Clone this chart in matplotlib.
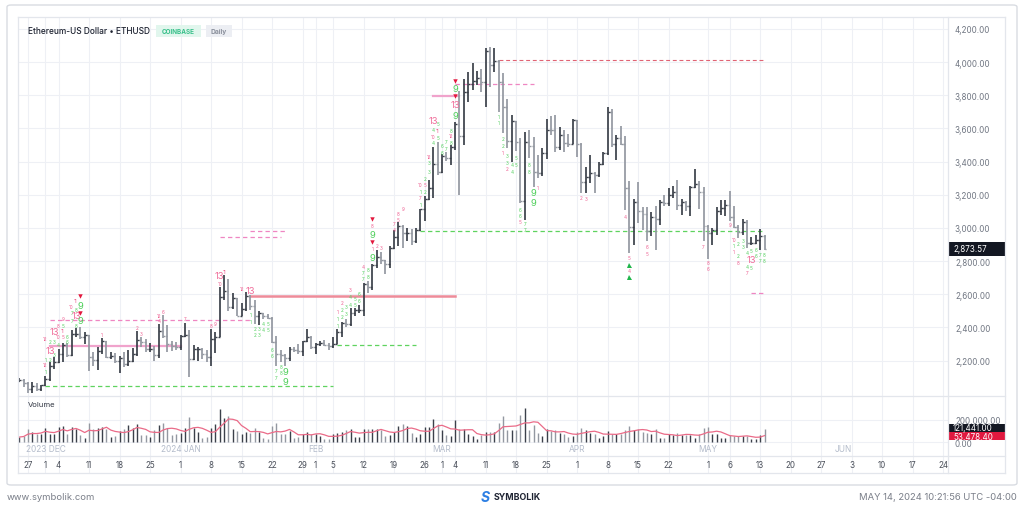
import numpy as np
import pandas as pd
import matplotlib
matplotlib.use('Agg')
import matplotlib.pyplot as plt
import matplotlib.dates as mdates
import matplotlib.transforms as mtrans
from matplotlib.patches import Rectangle, FancyBboxPatch
from matplotlib.lines import Line2D

plt.rcParams['font.family'] = ['Inter', 'DejaVu Sans']

# ---- daily OHLC, ETHUSD (Coinbase), 2023-11-25 .. 2024-05-14 ----
first_day = '2023-11-25'
last_day = '2024-05-14'

opens = [
    2080, 2085, 2063, 2027, 2049, 2029,
    2052, 2087, 2166, 2193, 2243, 2294, 2232, 2358, 2360, 2341, 2353, 2225, 2203, 2260, 2316, 2220,
    2229, 2196, 2218, 2177, 2201, 2239, 2326, 2310, 2268, 2272, 2232, 2379, 2346, 2300, 2291,
    2282, 2351, 2354, 2209, 2268, 2268, 2240, 2222, 2331, 2345, 2584, 2619, 2522, 2578, 2472, 2511,
    2587, 2530, 2467, 2489, 2470, 2455, 2313, 2242, 2235, 2218, 2268, 2267, 2257, 2318, 2344,
    2283, 2303, 2309, 2296, 2290, 2299, 2375, 2425, 2420, 2486, 2503, 2507, 2660, 2642, 2776, 2823,
    2804, 2785, 2880, 2944, 3014, 2967, 2972, 2922, 2990, 3112, 3177, 3244, 3385,
    3340, 3434, 3420, 3488, 3627, 3553, 3818, 3867, 3884, 3907, 3878, 4067, 3983, 4004, 3881, 3732,
    3522, 3644, 3519, 3160, 3516, 3494, 3336, 3329, 3455, 3591, 3590, 3490, 3560, 3510, 3508,
    3648, 3505, 3280, 3310, 3329, 3320, 3388, 3454, 3697, 3504, 3545, 3504, 3239, 3006, 3157, 3100,
    3085, 2984, 3067, 3055, 3155, 3148, 3200, 3219, 3139, 3156, 3130, 3250, 3264, 3215,
    3014, 2970, 2988, 3103, 3118, 3137, 3067, 3006, 2975, 3035, 2910, 2912, 2930, 2950,
]
highs = [
    2095, 2090, 2070, 2070, 2068, 2055,
    2110, 2192, 2222, 2270, 2305, 2305, 2385, 2395, 2405, 2375, 2355, 2250, 2285, 2335, 2320, 2250,
    2245, 2230, 2255, 2265, 2275, 2380, 2345, 2330, 2305, 2290, 2420, 2475, 2415, 2320, 2315,
    2355, 2430, 2385, 2295, 2280, 2275, 2265, 2390, 2370, 2644, 2717, 2695, 2608, 2580, 2550, 2614,
    2595, 2563, 2500, 2490, 2480, 2462, 2350, 2262, 2240, 2280, 2280, 2300, 2320, 2390, 2350,
    2306, 2320, 2325, 2308, 2340, 2393, 2436, 2449, 2520, 2517, 2538, 2666, 2683, 2783, 2867, 2858,
    2808, 2893, 2985, 3034, 3016, 3000, 2992, 3000, 3115, 3190, 3288, 3490, 3520,
    3448, 3460, 3500, 3640, 3825, 3900, 3940, 3995, 3945, 3960, 4085, 4093, 4085, 4010, 3935, 3780,
    3680, 3645, 3545, 3580, 3590, 3550, 3440, 3480, 3660, 3675, 3680, 3610, 3590, 3565, 3655,
    3650, 3510, 3370, 3440, 3340, 3400, 3460, 3730, 3720, 3560, 3615, 3555, 3285, 3175, 3280, 3125,
    3125, 3095, 3130, 3170, 3200, 3240, 3255, 3290, 3175, 3165, 3255, 3355, 3285, 3250,
    3020, 3000, 3125, 3170, 3170, 3220, 3130, 3020, 3055, 3050, 2945, 2960, 2995, 2955,
]
lows = [
    2070, 2040, 2005, 2005, 2015, 2018,
    2045, 2080, 2150, 2185, 2190, 2225, 2230, 2340, 2330, 2300, 2140, 2165, 2145, 2240, 2215, 2210,
    2185, 2125, 2160, 2165, 2190, 2230, 2280, 2255, 2255, 2200, 2215, 2335, 2255, 2260, 2265,
    2265, 2345, 2100, 2205, 2200, 2210, 2195, 2170, 2245, 2340, 2565, 2500, 2510, 2470, 2470, 2502,
    2505, 2420, 2415, 2450, 2450, 2305, 2165, 2195, 2170, 2200, 2255, 2238, 2230, 2313, 2270,
    2240, 2286, 2291, 2265, 2276, 2299, 2345, 2406, 2410, 2468, 2490, 2470, 2605, 2625, 2756, 2780,
    2725, 2760, 2873, 2890, 2880, 2920, 2900, 2910, 2980, 3040, 3167, 3180, 3320,
    3330, 3405, 3380, 3470, 3200, 3500, 3760, 3830, 3865, 3820, 3730, 3850, 3940, 3700, 3570, 3480,
    3400, 3465, 3150, 3050, 3420, 3250, 3300, 3315, 3415, 3560, 3460, 3470, 3460, 3490, 3508,
    3430, 3210, 3210, 3270, 3210, 3310, 3378, 3440, 3490, 3410, 3500, 3110, 2850, 2900, 3030, 2990,
    2920, 2950, 2870, 3020, 3135, 3135, 3180, 3110, 3080, 3100, 3070, 3240, 3115, 2920,
    2815, 2900, 2960, 3080, 3070, 3045, 3000, 2940, 2955, 2880, 2895, 2905, 2870, 2865,
]
closes = [
    2085, 2063, 2027, 2049, 2029, 2052,
    2087, 2166, 2193, 2243, 2294, 2232, 2358, 2360, 2341, 2353, 2225, 2203, 2260, 2316, 2220, 2229,
    2196, 2218, 2177, 2201, 2239, 2326, 2310, 2268, 2272, 2232, 2379, 2346, 2300, 2291, 2282,
    2351, 2354, 2209, 2268, 2268, 2240, 2222, 2331, 2345, 2584, 2619, 2522, 2578, 2472, 2511, 2587,
    2530, 2467, 2489, 2470, 2455, 2313, 2242, 2235, 2218, 2268, 2267, 2257, 2318, 2344, 2283,
    2303, 2309, 2296, 2290, 2299, 2375, 2425, 2420, 2486, 2503, 2507, 2660, 2642, 2776, 2823, 2804,
    2785, 2880, 2944, 3014, 2967, 2972, 2922, 2990, 3112, 3177, 3244, 3385, 3340,
    3434, 3420, 3488, 3627, 3553, 3818, 3867, 3884, 3907, 3878, 4067, 3983, 4004, 3881, 3732, 3522,
    3644, 3519, 3160, 3516, 3494, 3336, 3329, 3455, 3591, 3590, 3490, 3560, 3510, 3508, 3648,
    3505, 3280, 3310, 3329, 3320, 3388, 3454, 3697, 3504, 3545, 3504, 3239, 3006, 3157, 3100, 3085,
    2984, 3067, 3055, 3155, 3148, 3200, 3219, 3139, 3156, 3130, 3250, 3264, 3215, 3014,
    2970, 2988, 3103, 3118, 3137, 3067, 3006, 2975, 3035, 2910, 2912, 2930, 2950, 2873.57,
]
volume_k = [
    45, 55, 115, 94, 76, 70,
    130, 76, 76, 140, 145, 70, 140, 121, 60, 40, 175, 115, 130, 136, 115, 45,
    55, 100, 115, 155, 130, 160, 64, 64, 45, 106, 155, 175, 130, 60, 76,
    85, 130, 227, 130, 94, 40, 45, 130, 160, 300, 220, 236, 115, 100, 76, 94,
    85, 124, 94, 40, 25, 145, 175, 76, 76, 100, 33, 45, 76, 94, 76,
    76, 55, 25, 25, 76, 85, 94, 106, 115, 45, 45, 115, 121, 115, 115, 106,
    55, 64, 94, 150, 160, 145, 85, 45, 76, 140, 140, 206, 167,
    106, 64, 55, 197, 115, 115, 76, 55, 25, 64, 94, 94, 94, 175, 236, 106,
    106, 106, 245, 306, 106, 155, 85, 55, 115, 100, 106, 85, 70, 45, 55,
    94, 130, 106, 85, 76, 40, 55, 100, 76, 76, 76, 106, 145, 106, 115, 94,
    85, 76, 121, 40, 33, 70, 64, 85, 64, 64, 64, 40, 76, 124,
    140, 76, 76, 40, 40, 60, 55, 55, 55, 55, 25, 25, 64, 121.441,
]
vol_ma_label = 53478.40

# ---- TD sequential marks ----
small_dates = [
    '2023-12-01', '2023-12-01', '2023-12-01', '2023-12-02', '2023-12-02', '2023-12-01',
    '2023-12-03', '2023-12-03', '2023-12-04', '2023-12-04', '2023-12-04', '2023-12-05',
    '2023-12-05', '2023-12-05', '2023-12-05', '2023-12-06', '2023-12-06', '2023-12-07',
    '2023-12-07', '2023-12-07', '2023-12-08', '2023-12-08', '2023-12-08',
    '2023-12-14', '2023-12-22', '2023-12-23', '2023-12-27', '2023-12-27', '2023-12-28',
    '2024-01-02', '2024-01-08', '2024-01-09', '2024-01-10', '2024-01-11', '2024-01-15',
    '2024-01-17', '2024-01-17', '2024-01-18', '2024-01-18', '2024-01-19', '2024-01-19',
    '2024-01-20', '2024-01-20', '2024-01-21', '2024-01-21', '2024-01-22', '2024-01-22',
    '2024-01-23', '2024-01-23', '2024-01-24', '2024-01-24',
    '2024-02-06', '2024-02-06', '2024-02-06', '2024-02-07', '2024-02-07', '2024-02-07',
    '2024-02-08', '2024-02-08', '2024-02-09', '2024-02-09', '2024-02-09', '2024-02-10',
    '2024-02-10', '2024-02-11', '2024-02-11', '2024-02-12', '2024-02-12', '2024-02-12',
    '2024-02-13', '2024-02-13', '2024-02-14', '2024-02-14', '2024-02-15', '2024-02-16',
    '2024-02-19', '2024-02-19', '2024-02-20', '2024-02-20', '2024-02-21',
    '2024-02-25', '2024-02-25', '2024-02-25', '2024-02-25', '2024-02-26', '2024-02-26',
    '2024-02-26', '2024-02-27', '2024-02-27', '2024-02-27', '2024-02-28', '2024-02-28',
    '2024-02-28', '2024-02-29', '2024-02-29', '2024-02-29', '2024-03-01', '2024-03-01',
    '2024-03-02', '2024-03-02', '2024-03-03', '2024-03-03', '2024-03-03',
    '2024-03-14', '2024-03-14', '2024-03-15', '2024-03-15', '2024-03-15', '2024-03-16',
    '2024-03-16', '2024-03-16', '2024-03-17', '2024-03-17', '2024-03-18', '2024-03-18',
    '2024-03-19', '2024-03-19', '2024-03-19', '2024-03-20', '2024-03-20', '2024-03-21',
    '2024-03-21', '2024-03-23',
    '2024-04-02', '2024-04-03', '2024-04-12', '2024-04-13', '2024-04-13', '2024-04-17',
    '2024-04-17', '2024-04-30', '2024-05-01', '2024-05-01', '2024-05-06',
    '2024-05-07', '2024-05-07', '2024-05-07', '2024-05-08', '2024-05-08', '2024-05-08',
    '2024-05-09', '2024-05-09', '2024-05-10', '2024-05-10', '2024-05-10', '2024-05-11',
    '2024-05-11', '2024-05-12', '2024-05-12', '2024-05-13', '2024-05-13', '2024-05-14',
    '2024-05-14',
]
small_prices = [
    2136, 2174, 2210, 2210, 2313, 2335,
    2240, 2313, 2300, 2343, 2415, 2343,
    2380, 2415, 2452, 2313, 2345, 2526,
    2488, 2440, 2560, 2510, 2410,
    2357, 2400, 2365, 2440, 2475, 2495,
    2455, 2410, 2425, 2668, 2740, 2637,
    2477, 2437, 2395, 2355, 2395, 2355,
    2427, 2387, 2427, 2387, 2266, 2230,
    2140, 2096, 2166, 2128,
    2411, 2452, 2498, 2468, 2508, 2548,
    2486, 2528, 2536, 2588, 2628, 2536,
    2576, 2562, 2602, 2693, 2733, 2769,
    2709, 2749, 2874, 3014, 2894, 2880,
    2990, 3025, 3050, 3085, 3115,
    3141, 3181, 3219, 3261, 3221, 3261,
    3300, 3340, 3392, 3432, 3513, 3553,
    3593, 3543, 3587, 3627, 3456, 3496,
    3482, 3523, 3517, 3555, 3590,
    3670, 3635, 3541, 3497, 3456, 3436,
    3396, 3360, 3380, 3340, 3422, 3382,
    3110, 3074, 3038, 3028, 2990, 3380,
    3340, 3245,
    3181, 3175, 3070, 2823, 2743, 2887,
    2847, 2887, 2790, 2755, 3020,
    2930, 2893, 2860, 2907, 2833, 2793,
    2924, 2887, 2853, 2767, 2733, 2863,
    2763, 2873, 2833, 2843, 2803, 2843,
    2803,
]
small_texts = [
    '1', '12', '1', '2', '2', '12',
    '3', '3', '4', '10', '8', '5',
    '11', '5', '9', '6', '6', '10',
    '7', '7', '11', '8', '8',
    '1', '2', '3', '4', '12', '6',
    '7', '8', '9', '10', '11', '12',
    '1', '1', '2', '2', '3', '3',
    '4', '4', '5', '5', '6', '6',
    '7', '7', '8', '8',
    '1', '1', '1', '2', '2', '2',
    '3', '3', '4', '4', '3', '5',
    '5', '6', '6', '7', '7', '4',
    '8', '8', '1', '8', '2', '3',
    '4', '7', '5', '8', '9',
    '1', '7', '1', '10', '2', '5',
    '2', '3', '3', '12', '4', '10',
    '4', '5', '11', '5', '6', '6',
    '7', '7', '8', '12', '8',
    '1', '1', '2', '2', '1', '3',
    '3', '2', '4', '4', '5', '5',
    '6', '6', '5', '7', '7', '8',
    '8', '1',
    '2', '3', '4', '5', '4', '6',
    '5', '7', '8', '6', '9',
    '10', '1', '1', '2', '2', '8',
    '3', '3', '4', '4', '7', '5',
    '5', '6', '6', '7', '7', '8',
    '8',
]
small_kind = [
    'g', 'p', 'g', 'g', 'g', 'p',
    'g', 'g', 'g', 'p', 'p', 'p',
    'p', 'g', 'p', 'g', 'g', 'p',
    'g', 'g', 'p', 'g', 'g',
    'p', 'p', 'p', 'p', 'p', 'p',
    'p', 'p', 'p', 'p', 'p', 'p',
    'g', 'g', 'g', 'g', 'g', 'g',
    'g', 'g', 'g', 'g', 'g', 'g',
    'g', 'g', 'g', 'g',
    'g', 'g', 'p', 'g', 'g', 'p',
    'g', 'g', 'g', 'g', 'p', 'g',
    'g', 'g', 'g', 'g', 'g', 'p',
    'g', 'g', 'p', 'p', 'p', 'p',
    'p', 'p', 'p', 'p', 'p',
    'g', 'p', 'g', 'p', 'g', 'p',
    'g', 'g', 'g', 'p', 'g', 'p',
    'g', 'g', 'p', 'g', 'g', 'g',
    'g', 'g', 'g', 'p', 'g',
    'g', 'g', 'g', 'g', 'p', 'g',
    'g', 'p', 'g', 'g', 'g', 'g',
    'g', 'g', 'p', 'g', 'g', 'g',
    'g', 'p',
    'p', 'p', 'p', 'p', 'p', 'p',
    'p', 'p', 'p', 'p', 'p',
    'p', 'g', 'p', 'g', 'g', 'p',
    'g', 'g', 'g', 'g', 'p', 'g',
    'g', 'g', 'g', 'g', 'g', 'g',
    'g',
]

big_dates = ['2023-12-02', '2023-12-03', '2023-12-08', '2023-12-09', '2023-12-09',
             '2024-01-10', '2024-01-17', '2024-01-25', '2024-01-25', '2024-02-14',
             '2024-02-14', '2024-02-28', '2024-03-04', '2024-03-04', '2024-03-04',
             '2024-03-22', '2024-03-22', '2024-05-11']
big_prices = [2264, 2373, 2470, 2440, 2530,
              2713, 2622, 2136, 2076, 2823,
              2960, 3647, 3681, 3742, 3838,
              3211, 3155, 2809]
big_texts = ['13', '13', '13', '9', '9',
             '13', '13', '9', '9', '9',
             '9', '13', '9', '13', '9',
             '9', '9', '13']

sell_tri_dates = ['2023-12-09', '2023-12-09', '2024-02-14', '2024-02-14', '2024-03-04', '2024-03-04']
sell_tri_prices = [2590, 2488, 3054, 2914, 3888, 3794]
buy_tri_dates = ['2024-04-13', '2024-04-13']
buy_tri_prices = [2779, 2703]

# TDST / risk levels
line_start = ['2023-12-01', '2023-12-02', '2023-12-02', '2024-01-10', '2024-01-17', '2024-01-17',
              '2024-02-06', '2024-02-25', '2024-02-28', '2024-03-04', '2024-03-14', '2024-05-11']
line_end = ['2024-02-05', '2024-01-01', '2024-01-17', '2024-01-24', '2024-01-25', '2024-03-04',
            '2024-02-24', '2024-05-14', '2024-03-05', '2024-03-22', '2024-05-14', '2024-05-14']
line_price = [2047, 2288, 2445, 2946, 2982, 2590, 2294, 2982, 3796, 3868, 4013, 2608]
line_kind = ['green_dash', 'pink_solid', 'pink_dash', 'pink_dash', 'pink_dash', 'red_solid',
             'green_dash', 'green_dash', 'pink_solid', 'pink_dash', 'red_dash', 'pink_dash']

tick_dates = ['2023-11-27', '2023-12-01', '2023-12-04', '2023-12-11', '2023-12-18', '2023-12-25',
              '2024-01-01', '2024-01-08', '2024-01-15', '2024-01-22', '2024-01-29', '2024-02-01',
              '2024-02-05', '2024-02-12', '2024-02-19', '2024-02-26', '2024-03-01', '2024-03-04',
              '2024-03-11', '2024-03-18', '2024-03-25', '2024-04-01', '2024-04-08', '2024-04-15',
              '2024-04-22', '2024-05-01', '2024-05-06', '2024-05-13', '2024-05-20', '2024-05-27',
              '2024-06-03', '2024-06-10', '2024-06-17', '2024-06-24']
month_dates = ['2023-12-01', '2024-01-01', '2024-02-01', '2024-03-01', '2024-04-01', '2024-05-01', '2024-06-01']
month_names = ['2023 DEC', '2024 JAN', 'FEB', 'MAR', 'APR', 'MAY', 'JUN']
price_ticks = [2200, 2400, 2600, 2800, 3000, 3200, 3400, 3600, 3800, 4000, 4200]

# ---------------------------------------------------------------
W, H = 1024, 510
fig = plt.figure(figsize=(W / 100, H / 100), dpi=100)
fig.patch.set_facecolor('white')


def fx(px):
    return px / W


def fy(py):
    return 1 - py / H


def dn(s):
    return mdates.date2num(pd.Timestamp(s))


x = mdates.date2num(pd.date_range(first_day, last_day, freq='D'))
o = np.array(opens, float)
hi = np.array(highs, float)
lo = np.array(lows, float)
c = np.array(closes, float)
vol = np.array(volume_k) * 1000
up = c >= o
col_up, col_dn = '#3b404a', '#9398a1'
colors = np.where(up, col_up, col_dn)

x0 = dn(first_day)
xlim = (x0 - 0.3, x0 + 213.1)
left, right = 18, 948

ax = fig.add_axes([fx(left), fy(397), fx(right - left), (397 - 18) / H])
axv = fig.add_axes([fx(left), fy(457), fx(right - left), 60 / H])
axd = fig.add_axes([fx(left), fy(474), fx(right - left), 17 / H])

grid_c = '#eef0f5'
tick_x = [dn(d) for d in tick_dates]
for a in (ax, axv, axd):
    a.set_xlim(*xlim)
    for s in a.spines.values():
        s.set_visible(False)
    a.set_xticks([])
    for t in tick_x:
        a.axvline(t, color=grid_c, lw=0.8, zorder=0)

# price panel
ax.set_ylim(1987, 4272)
for p in price_ticks:
    ax.axhline(p, color=grid_c, lw=0.8, zorder=0)
ax.yaxis.tick_right()
ax.set_yticks(price_ticks)
ax.set_yticklabels([f'{p:,.2f}' for p in price_ticks])
ax.tick_params(axis='y', length=0, pad=5, labelsize=5.8, labelcolor='#707682')

ax.vlines(x, lo, hi, colors=colors, lw=1.25, zorder=3)
ax.hlines(o, x - 0.45, x, colors=colors, lw=1.0, zorder=3)
ax.hlines(c, x, x + 0.45, colors=colors, lw=1.0, zorder=3)

line_styles = {
    'green_dash': dict(color='#5fd35f', lw=0.9, ls=(0, (3.5, 2.5))),
    'pink_dash': dict(color='#ef86c2', lw=0.9, ls=(0, (3.5, 2.5))),
    'red_dash': dict(color='#e06474', lw=0.8, ls=(0, (3.5, 2.5))),
    'pink_solid': dict(color='#f0a3cc', lw=1.6, ls='-'),
    'red_solid': dict(color='#ee8b99', lw=1.8, ls='-'),
}
for s, e, p, k in zip(line_start, line_end, line_price, line_kind):
    ax.plot([dn(s), dn(e)], [p, p], zorder=2, **line_styles[k])

kind_col = {'g': '#52cf5e', 'p': '#ee5f91'}
for d, p, t, k in zip(small_dates, small_prices, small_texts, small_kind):
    ax.text(dn(d), p, t, ha='center', va='center', fontsize=3.3,
            color=kind_col[k], zorder=4)
for d, p, t in zip(big_dates, big_prices, big_texts):
    ax.text(dn(d), p, t, ha='center', va='center', fontsize=6.8,
            color='#4fcf5b' if t == '9' else '#f0709c', zorder=5)
ax.plot([dn(d) for d in sell_tri_dates], sell_tri_prices, 'v', color='#e3173d',
        ms=3.2, mew=0, zorder=5)
ax.plot([dn(d) for d in buy_tri_dates], buy_tri_prices, '^', color='#1fb54a',
        ms=3.6, mew=0, zorder=5)

# last price tag
tr = mtrans.blended_transform_factory(ax.transAxes, ax.transData)
tag_w = (1005 - 948) / (right - left)
ax.add_patch(Rectangle((1.0, c[-1] - 40), tag_w, 80, transform=tr, clip_on=False,
                       facecolor='#131722', edgecolor='none', zorder=6))
ax.text(1.0 + 5 / (right - left), c[-1], f'{c[-1]:,.2f}', transform=tr, ha='left',
        va='center', fontsize=5.8, color='white', zorder=7, clip_on=False)

# volume panel
axv.set_ylim(-127000, 418000)
for v in (0, 200000):
    axv.axhline(v, color=grid_c, lw=0.8, zorder=0)
axv.vlines(x, 0, vol, colors=colors, lw=1.0, zorder=3)
vol_ma = pd.Series(vol).rolling(5, min_periods=1).mean()
axv.plot(x, vol_ma, color='#ea6b88', lw=0.9, zorder=4)
axv.yaxis.tick_right()
axv.set_yticks([0, 200000])
axv.set_yticklabels(['0.00', '200,000.00'])
axv.tick_params(axis='y', length=0, pad=5, labelsize=5.8, labelcolor='#707682')
axv.text(10 / (right - left), 0.87, 'Volume', transform=axv.transAxes, fontsize=5.5,
         color='#333844', va='center')
for d, name in zip(month_dates, month_names):
    axv.text(dn(d), 0.12, name, transform=mtrans.blended_transform_factory(axv.transData, axv.transAxes),
             ha='center', va='center', fontsize=6, color='#b4bccb')
trv = mtrans.blended_transform_factory(axv.transAxes, axv.transData)
axv.add_patch(Rectangle((1.0, 18000), tag_w, 73000, transform=trv, clip_on=False,
                        facecolor='#e0183f', edgecolor='none', zorder=6))
axv.text(1.0 + 5 / (right - left), 50000, f'{vol_ma_label:,.2f}', transform=trv, ha='left',
         va='center', fontsize=5.8, color='white', zorder=7, clip_on=False)
axv.add_patch(Rectangle((1.0, 91000), tag_w, 77000, transform=trv, clip_on=False,
                        facecolor='#131722', edgecolor='none', zorder=6))
axv.text(1.0 + 5 / (right - left), 130000, f'{vol[-1]:,.2f}', transform=trv, ha='left',
         va='center', fontsize=5.8, color='white', zorder=7, clip_on=False)

# date row
axd.set_ylim(0, 1)
axd.set_yticks([])
for t, d in zip(tick_x, tick_dates):
    axd.text(t, 0.5, str(pd.Timestamp(d).day), ha='center', va='center',
             fontsize=5.8, color='#4b505a')

# frames
fig.patches.append(FancyBboxPatch((fx(7), fy(486)), fx(1010), (486 - 6) / H,
                                  boxstyle='round,pad=0,rounding_size=0.004',
                                  transform=fig.transFigure, facecolor='none',
                                  edgecolor='#d9dce2', lw=1.0, zorder=0))
frame_c = '#e3e6ec'
for (xa, ya, xb, yb) in [(18, 18, 1005, 18), (18, 474, 1005, 474), (18, 18, 18, 474),
                         (1005, 18, 1005, 474), (948, 18, 948, 474),
                         (18, 397, 1005, 397), (18, 457, 1005, 457)]:
    fig.add_artist(Line2D([fx(xa), fx(xb)], [fy(ya), fy(yb)], transform=fig.transFigure,
                          color=frame_c, lw=0.9))

# header
fig.text(fx(28), fy(32), 'Ethereum-US Dollar • ETHUSD', fontsize=6.0, color='#1d2230',
         va='center', ha='left', weight='medium')
fig.add_artist(Rectangle((fx(156), fy(38)), fx(45), 12 / H, transform=fig.transFigure,
                         facecolor='#e1f6ed', edgecolor='none'))
fig.text(fx(178.5), fy(32), 'COINBASE', fontsize=4.6, color='#38c08a', ha='center',
         va='center', weight='bold')
fig.add_artist(Rectangle((fx(206), fy(38)), fx(26), 12 / H, transform=fig.transFigure,
                         facecolor='#eceef3', edgecolor='none'))
fig.text(fx(219), fy(32), 'Daily', fontsize=4.8, color='#8a909c', ha='center',
         va='center', weight='bold')

# footer
fig.text(fx(7), fy(498), 'www.symbolik.com', fontsize=6.8, color='#7a7f89', va='center')
fig.text(fx(1017), fy(498), 'MAY 14, 2024 10:21:56 UTC -04:00', fontsize=6.8,
         color='#7a7f89', va='center', ha='right')
fig.text(fx(485), fy(498), 'S', fontsize=10, color='#2d7fe3', va='center', ha='center',
         weight='bold', style='italic')
fig.text(fx(494), fy(498), 'SYMBOLIK', fontsize=6.4, color='#1f2433', va='center',
         ha='left', weight='bold')

fig.savefig('out.png', dpi=100, facecolor='white')
